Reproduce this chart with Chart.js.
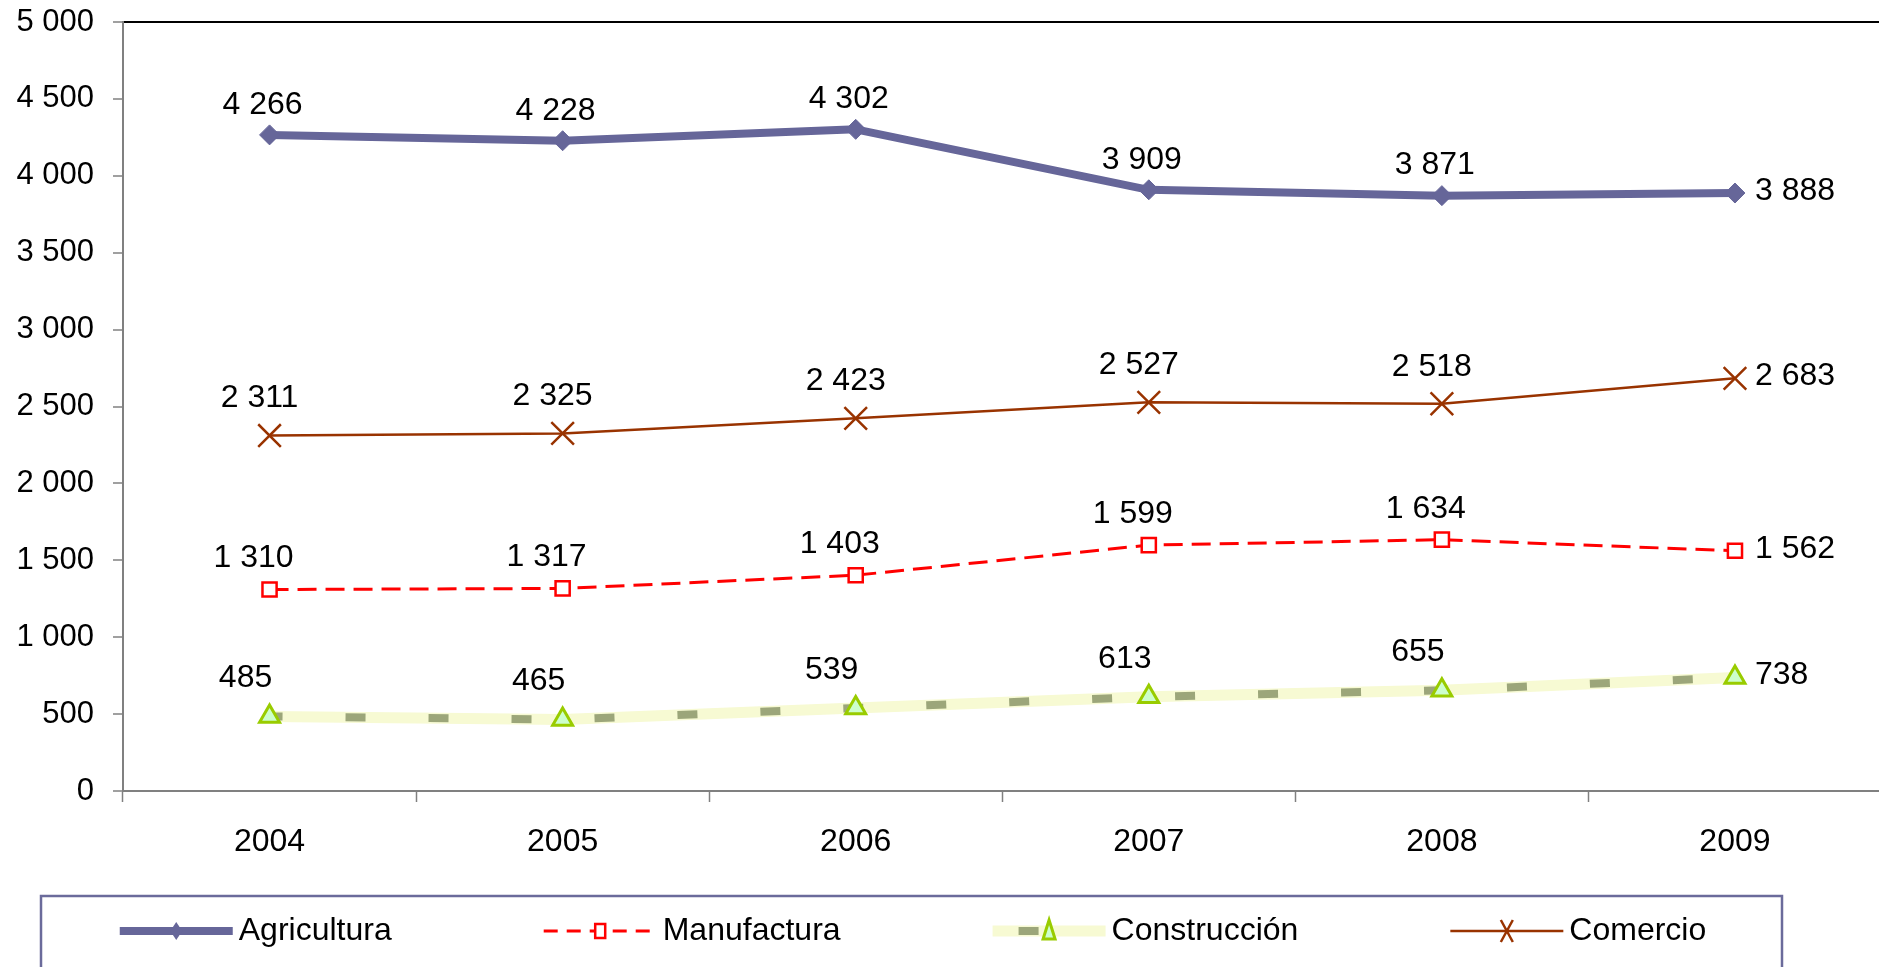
<!DOCTYPE html>
<html>
<head>
<meta charset="utf-8">
<script src="https://cdn.jsdelivr.net/npm/chart.js@4.4.1/dist/chart.umd.min.js"></script>
<style>
  html, body { margin: 0; padding: 0; background: #fff; overflow: hidden; }
  #wrap { width: 1900px; height: 967px; position: relative; }
</style>
</head>
<body>
<div id="wrap"><canvas id="chart"></canvas></div>
<script>
const years = ['2004', '2005', '2006', '2007', '2008', '2009'];
const agricultura = [4266, 4228, 4302, 3909, 3871, 3888];
const manufactura = [1310, 1317, 1403, 1599, 1634, 1562];
const construccion = [485, 465, 539, 613, 655, 738];
const comercio = [2311, 2325, 2423, 2527, 2518, 2683];
const yTicks = [0, 500, 1000, 1500, 2000, 2500, 3000, 3500, 4000, 4500, 5000];

const FONT = '"Liberation Sans", Arial, sans-serif';
const fmt = v => String(v).replace(/\B(?=(\d{3})+(?!\d))/g, ' ');

// pale band under the dashed Construcción line
const underlay = {
  id: 'underlay',
  beforeDatasetDraw(chart, args) {
    const ds = chart.data.datasets[args.index];
    if (!ds.bandColor) return;
    const pts = args.meta.data;
    const ctx = chart.ctx;
    ctx.save();
    ctx.strokeStyle = ds.bandColor;
    ctx.lineWidth = ds.bandWidth;
    ctx.lineJoin = 'round';
    ctx.beginPath();
    pts.forEach((p, i) => i ? ctx.lineTo(p.x, p.y) : ctx.moveTo(p.x, p.y));
    ctx.stroke();
    ctx.restore();
  }
};

// value labels
const valueLabels = {
  id: 'valueLabels',
  afterDatasetsDraw(chart) {
    const ctx = chart.ctx;
    ctx.save();
    ctx.font = '32px ' + FONT;
    ctx.fillStyle = '#000';
    chart.data.datasets.forEach((ds, di) => {
      const pts = chart.getDatasetMeta(di).data;
      pts.forEach((p, i) => {
        const txt = fmt(ds.data[i]);
        ctx.textBaseline = 'middle';
        if (i === pts.length - 1) {
          ctx.textAlign = 'left';
          ctx.fillText(txt, p.x + 20, p.y - 2);
        } else {
          ctx.textAlign = 'center';
          ctx.fillText(txt, p.x + ds.labelDx, p.y - ds.labelDy);
        }
      });
    });
    ctx.restore();
  }
};

// legend box
const legendBox = {
  id: 'legendBox',
  afterDraw(chart) {
    const ctx = chart.ctx;
    ctx.save();
    ctx.strokeStyle = '#6B6B9B';
    ctx.lineWidth = 2.5;
    ctx.strokeRect(41, 896, 1741, 120);

    ctx.font = '32px ' + FONT;
    ctx.textBaseline = 'middle';
    ctx.textAlign = 'left';
    const sw = 113, tg = 6, gap = 152, y = 931;
    const items = chart.data.datasets;
    const widths = items.map(d => ctx.measureText(d.label).width);
    const total = widths.reduce((a, w) => a + sw + tg + w, 0) + gap * (items.length - 1);
    let x = 913 - total / 2;
    items.forEach((ds, i) => {
      const x0 = x, x1 = x + sw, xm = (x0 + x1) / 2;
      ctx.save();
      if (ds.bandColor) {
        ctx.strokeStyle = ds.bandColor;
        ctx.lineWidth = ds.bandWidth;
        ctx.beginPath(); ctx.moveTo(x0, y); ctx.lineTo(x1, y); ctx.stroke();
        ctx.fillStyle = ds.borderColor;
        ctx.fillRect(x0 + 26, y - 4, 20, 8);
      } else {
        ctx.strokeStyle = ds.borderColor;
        ctx.lineWidth = ds.borderWidth;
        if (ds.borderDash) ctx.setLineDash([14, 9]);
        ctx.beginPath(); ctx.moveTo(x0, y); ctx.lineTo(x1, y); ctx.stroke();
        ctx.setLineDash([]);
      }
      // marker
      ctx.lineWidth = ds.pointBorderWidth || 2;
      ctx.strokeStyle = ds.pointBorderColor || ds.borderColor;
      ctx.fillStyle = ds.pointBackgroundColor || ds.borderColor;
      ctx.beginPath();
      if (ds.pointStyle === 'rectRot') {
        ctx.moveTo(xm, y - 9); ctx.lineTo(xm + 6, y); ctx.lineTo(xm, y + 9); ctx.lineTo(xm - 6, y); ctx.closePath();
        ctx.fill();
      } else if (ds.pointStyle === 'rect') {
        ctx.rect(xm - 5, y - 7, 10, 14); ctx.fill(); ctx.stroke();
      } else if (ds.pointStyle === 'triangle') {
        ctx.moveTo(xm, y - 11); ctx.lineTo(xm + 6, y + 8); ctx.lineTo(xm - 6, y + 8); ctx.closePath();
        ctx.fill(); ctx.stroke();
      } else if (ds.pointStyle === 'crossRot') {
        ctx.moveTo(xm - 6, y - 11); ctx.lineTo(xm + 6, y + 11);
        ctx.moveTo(xm + 6, y - 11); ctx.lineTo(xm - 6, y + 11);
        ctx.stroke();
      }
      ctx.restore();
      ctx.fillStyle = '#000';
      ctx.fillText(ds.label, x1 + tg, y);
      x = x1 + tg + widths[i] + gap;
    });
    ctx.restore();
  }
};

new Chart(document.getElementById('chart').getContext('2d'), {
  type: 'line',
  data: {
    labels: years,
    datasets: [{
      label: 'Agricultura',
      data: agricultura,
      borderColor: '#666699',
      borderWidth: 8,
      borderJoinStyle: 'round',
      pointStyle: 'rectRot',
      pointRadius: 10,
      pointBackgroundColor: '#666699',
      pointBorderColor: '#666699',
      pointBorderWidth: 1,
      labelDx: -7,
      labelDy: 30
    }, {
      label: 'Manufactura',
      data: manufactura,
      borderColor: '#FF0000',
      borderWidth: 3,
      borderDash: [19, 9],
      pointStyle: 'rect',
      pointRadius: 10,
      pointBackgroundColor: '#FFFFFF',
      pointBorderColor: '#FF0000',
      pointBorderWidth: 2.5,
      labelDx: -16,
      labelDy: 31
    }, {
      label: 'Construcción',
      data: construccion,
      borderColor: '#9CA67A',
      borderWidth: 8,
      borderDash: [20, 63],
      borderDashOffset: 7,
      bandColor: '#F7FAD3',
      bandWidth: 11,
      pointStyle: 'triangle',
      pointRadius: 11.5,
      pointBackgroundColor: '#CCFFCC',
      pointBorderColor: '#99CC00',
      pointBorderWidth: 3,
      labelDx: -24,
      labelDy: 38
    }, {
      label: 'Comercio',
      data: comercio,
      borderColor: '#993300',
      borderWidth: 2.5,
      pointStyle: 'crossRot',
      pointRadius: 16,
      pointBorderColor: '#993300',
      pointBorderWidth: 2.5,
      labelDx: -10,
      labelDy: 37
    }]
  },
  options: {
    responsive: true,
    maintainAspectRatio: false,
    animation: false,
    layout: { padding: { top: 22, right: 9, left: 0, bottom: 0 } },
    plugins: {
      legend: { display: false },
      tooltip: { enabled: false }
    },
    elements: { line: { tension: 0 } },
    scales: {
      x: {
        offset: true,
        grid: {
          offset: true,
          drawOnChartArea: false,
          tickLength: 11,
          tickColor: '#808080',
          tickWidth: 1.5
        },
        border: { color: '#808080', width: 2 },
        ticks: { color: '#000', padding: 21, font: { family: FONT, size: 32 } },
        afterFit: s => { s.height = 176; s.paddingLeft = 0; s.paddingRight = 0; }
      },
      y: {
        min: 0,
        max: 5000,
        afterBuildTicks: s => { s.ticks = yTicks.map(v => ({ value: v })); },
        grid: {
          color: c => (c.tick && c.tick.value === 5000) ? '#000' : 'rgba(0,0,0,0)',
          lineWidth: 2,
          tickLength: 10,
          tickColor: '#808080',
          tickWidth: 1.5
        },
        border: { color: '#808080', width: 2 },
        ticks: {
          color: '#000',
          padding: 19,
          font: { family: FONT, size: 31 },
          callback: v => fmt(v)
        },
        afterFit: s => { s.width = 123; s.paddingTop = 0; s.paddingBottom = 0; }
      }
    }
  },
  plugins: [underlay, valueLabels, legendBox]
});
</script>
</body>
</html>
